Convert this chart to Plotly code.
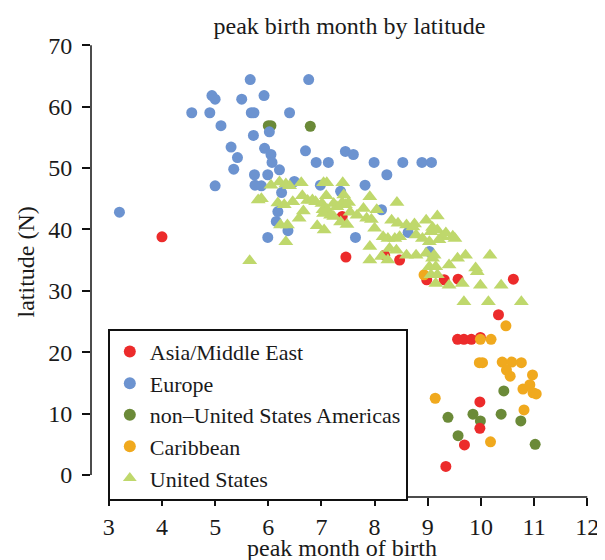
import plotly.graph_objects as go

# ---- data (peak month of birth, latitude N) ----
asia_x = [4.0, 7.39, 7.46, 8.19, 8.47, 8.98, 9.31, 9.57, 10.61, 10.33, 9.56, 9.68, 9.82, 9.99, 9.98, 9.98, 9.69, 9.34]
asia_y = [38.8, 42.1, 35.5, 35.8, 35.0, 31.8, 31.8, 31.9, 31.9, 26.1, 22.1, 22.1, 22.1, 22.4, 11.9, 7.6, 4.9, 1.4]

europe_x = [3.2, 4.56, 4.9, 4.94, 5.0, 5.5, 5.66, 5.92, 6.76, 5.68, 5.73, 6.4,
            5.11, 6.02, 5.72, 5.3, 5.93, 5.42, 6.05, 6.07, 6.7, 6.9, 7.13, 7.45, 7.6,
            7.99, 8.53, 8.89, 9.07, 8.23, 5.35, 6.21, 5.74, 5.99, 5.0, 5.75, 5.87, 6.49,
            6.25, 6.98, 7.36, 7.82, 6.18, 6.15, 6.37, 5.99, 7.64, 8.13, 8.63, 9.03]
europe_y = [42.8, 59.0, 59.0, 61.8, 61.2, 61.2, 64.4, 61.8, 64.4, 59.0, 59.0, 59.0,
            56.9, 55.9, 55.3, 53.4, 53.2, 51.7, 52.2, 50.9, 52.8, 50.9, 50.9, 52.7, 52.2,
            50.9, 50.9, 50.9, 50.9, 48.9, 49.8, 49.7, 48.9, 48.9, 47.1, 47.2, 47.1, 47.8,
            46.0, 47.2, 46.2, 47.2, 42.9, 41.3, 39.8, 38.7, 38.7, 43.2, 39.5, 36.4]

nonus_x = [6.0, 6.05, 6.79, 10.43, 9.38, 9.85, 9.99, 10.38, 10.75, 9.57, 11.02]
nonus_y = [56.9, 56.9, 56.8, 13.7, 9.4, 9.9, 8.8, 9.9, 8.8, 6.4, 5.0]

carib_x = [8.93, 10.47, 9.99, 10.19, 9.97, 10.03, 10.4, 10.58, 10.76, 10.48, 10.55, 10.97,
           10.79, 10.92, 10.98, 11.04, 9.14, 10.81, 10.18]
carib_y = [32.6, 24.3, 22.1, 22.1, 18.3, 18.3, 18.4, 18.4, 18.3, 17.1, 16.1, 16.3,
           14.0, 14.7, 13.4, 13.2, 12.5, 10.6, 5.4]

us_x = [5.65, 5.81, 5.87, 6.05, 6.21, 6.33, 6.40, 6.18, 6.30, 6.46, 6.23, 6.36, 6.33,
        6.62, 6.64, 6.74, 6.83, 6.89, 6.66, 6.58, 7.04, 7.10, 7.40, 7.09, 7.42,
        7.01, 7.23, 7.29, 7.39, 7.45, 7.51, 7.03, 7.11, 7.17, 7.04, 7.23, 7.54, 7.67,
        6.92, 7.05, 7.36, 7.48, 7.91, 8.42, 7.79, 8.04, 7.85, 7.94, 8.32, 8.44, 8.00,
        8.60, 8.75, 8.97, 9.18, 8.16, 8.25, 8.38, 8.47, 8.78, 8.90, 9.06, 9.18, 9.27,
        9.34, 9.51, 9.03, 9.21, 7.91, 8.28, 8.41, 8.60, 8.78, 8.97, 9.09, 7.91, 8.13,
        8.25, 9.12, 9.56, 9.71, 10.17, 9.03, 9.15, 9.40, 9.90, 9.93, 9.06, 9.18,
        9.15, 9.40, 9.65, 9.99, 10.38, 9.68, 10.14, 10.76, 8.72, 9.09, 9.47]
us_y = [34.9, 44.8, 45.0, 47.2, 47.7, 47.4, 47.1, 44.3, 44.0, 44.5, 40.7, 40.7, 38.0,
        47.6, 45.5, 44.7, 44.8, 44.5, 43.0, 41.8, 47.6, 47.6, 47.6, 45.5, 45.6,
        44.2, 44.2, 43.7, 44.4, 44.0, 44.4, 43.2, 43.2, 42.3, 42.6, 42.1, 42.8, 42.3,
        40.6, 39.9, 41.2, 40.8, 45.3, 44.4, 43.4, 43.2, 41.8, 41.6, 41.5, 41.0, 40.2,
        40.7, 40.9, 41.5, 42.2, 38.8, 38.5, 38.5, 38.8, 39.1, 38.5, 39.6, 39.9, 38.8,
        39.4, 38.5, 38.0, 38.3, 37.2, 36.9, 36.6, 35.8, 35.8, 36.1, 35.3, 35.0, 35.6,
        35.0, 35.8, 35.3, 35.8, 35.8, 33.9, 33.9, 34.2, 33.7, 33.1, 32.6, 32.6,
        31.2, 30.9, 31.2, 30.9, 30.9, 28.2, 28.2, 28.2, 40.4, 40.3, 38.9]

x_ticks = [3, 4, 5, 6, 7, 8, 9, 10, 11, 12]
y_ticks = [0, 10, 20, 30, 40, 50, 60, 70]

FONT = "Liberation Serif, Times New Roman, serif"
TXT = "#1a1a1a"

fig = go.Figure()

def add(x, y, name, color, symbol, size, rank):
    fig.add_trace(go.Scatter(
        x=x, y=y, mode="markers", name=name, legendrank=rank,
        marker=dict(color=color, symbol=symbol, size=size, line=dict(width=0)),
    ))

# drawing order: green, red, blue, orange, US triangles on top
add(nonus_x, nonus_y, "non\u2013United States Americas", "#6B8A38", "circle", 11, 3)
add(asia_x, asia_y, "Asia/Middle East", "#EC2B2B", "circle", 11, 1)
add(europe_x, europe_y, "Europe", "#6C93D0", "circle", 11, 2)
add(carib_x, carib_y, "Caribbean", "#F0A91E", "circle", 11, 4)
add(us_x, us_y, "United States", "#BFD86C", "triangle-up", 13, 5)

# detached axis lines (R style)
fig.add_shape(type="line", xref="paper", yref="y", x0=0, x1=0, y0=0, y1=70,
              line=dict(color="#111111", width=1.5))
fig.add_shape(type="line", xref="x", yref="paper", x0=3, x1=12, y0=0, y1=0,
              line=dict(color="#111111", width=1.5))

# axis titles as annotations for exact placement
fig.add_annotation(text="peak month of birth", xref="paper", yref="paper",
                   x=0.5, y=0, yshift=-51, xanchor="center", yanchor="middle",
                   showarrow=False, font=dict(family=FONT, size=24, color=TXT))
fig.add_annotation(text="latitude (N)", xref="paper", yref="paper",
                   x=0, xshift=-66, y=0.5, xanchor="center", yanchor="middle",
                   textangle=-90, showarrow=False,
                   font=dict(family=FONT, size=24, color=TXT))

fig.update_layout(
    width=597, height=552,
    margin=dict(l=83, r=6, t=20, b=63),
    paper_bgcolor="white", plot_bgcolor="white",
    font=dict(family=FONT, size=24, color=TXT),
    title=dict(text="peak birth month by latitude", x=0.515, xref="paper",
               xanchor="center", y=0.969, yanchor="middle", yref="container",
               font=dict(family=FONT, size=24, color=TXT)),
    showlegend=True,
    legend=dict(x=0.0335, xanchor="left", y=-0.008, yanchor="bottom",
                bgcolor="white", bordercolor="#111111", borderwidth=2,
                font=dict(family=FONT, size=22, color=TXT),
                itemsizing="constant", tracegroupgap=0),
    xaxis=dict(range=[2.665, 12.108], tickvals=x_ticks, ticks="outside", ticklen=8,
               tickwidth=1.5, tickcolor="#111111", showline=False, showgrid=False,
               zeroline=False, ticklabeloverflow="allow", ticklabelstandoff=0,
               tickfont=dict(family=FONT, size=24, color=TXT)),
    yaxis=dict(range=[-3.58, 72.8], tickvals=y_ticks, ticks="outside", ticklen=8,
               tickwidth=1.5, tickcolor="#111111", showline=False, showgrid=False,
               zeroline=False, ticklabelstandoff=5,
               tickfont=dict(family=FONT, size=24, color=TXT)),
)

fig.write_html("out.html")
